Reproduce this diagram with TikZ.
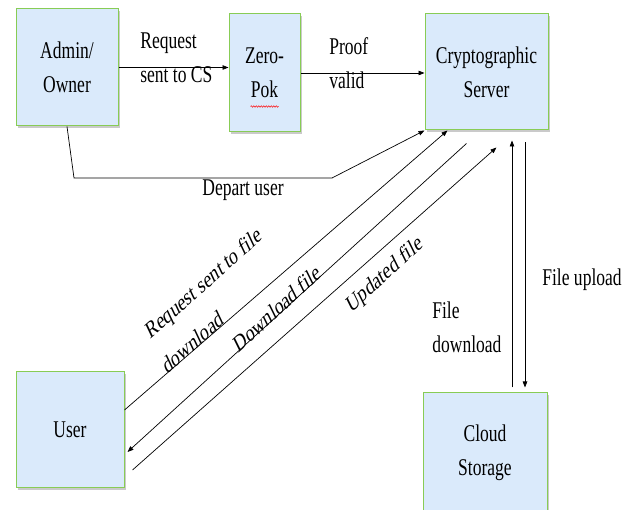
\documentclass[tikz,border=0pt]{standalone}
\usepackage{fontspec}
\setmainfont{Liberation Serif}[FakeStretch=0.73]
\newfontfamily\slantserif{Liberation Serif}
\usetikzlibrary{calc}
\usetikzlibrary{positioning}
\usetikzlibrary{arrows.meta,shadows,decorations.pathmorphing}
\definecolor{boxfill}{HTML}{DAEAFB}
\definecolor{boxline}{HTML}{88CC55}
\tikzset{
  block/.style={draw=boxline, line width=1pt, fill=boxfill, align=center, inner sep=0pt,
    drop shadow={shadow xshift=1.5pt, shadow yshift=-2pt, opacity=0.35, fill=black!60}},
  arr/.style={-{Triangle[length=6pt,width=4.5pt]}},
  lbl/.style={align=left, inner sep=0pt},
  tilted/.style={lbl, font=\fontsize{24}{42}\slantserif, xscale=0.73, rotate=#1}
}

\begin{document}
\begin{tikzpicture}[x=1pt, y=-1pt, font=\fontsize{24}{34}\selectfont, line width=0.7pt]
  \useasboundingbox (0,0) rectangle (635,510);

  \node [block, minimum width=102pt, minimum height=117pt] (admin) at (67,67.5) {Admin/\\Owner};
  \node [block, minimum width=71pt, minimum height=118pt] (zero) at (264.5,73) {Zero-\\Pok};
  \node [block, minimum width=123pt, minimum height=116pt] (crypto) at (486.5,72) {Cryptographic\\Server};
  \node [block, minimum width=108pt, minimum height=116pt] (user) at (70,430) {User};
  \node [block, minimum width=124pt, minimum height=120pt] (cloud) at (485,453) {Cloud\\Storage};

  % spell check mark under Pok
  \draw [red, line width=0.5pt, decorate, decoration={snake, amplitude=0.7pt, segment length=2.5pt}]
    ($(zero.south)+(-14,-26)$) -- ($(zero.south)+(14,-26)$);

  \draw [arr] (admin.east) -- (admin.east -| zero.west);
  \node [lbl, anchor=west] (req) at (140,58) {Request\\sent to CS};

  \draw [arr] (zero.east) -- (zero.east -| crypto.west);
  \node [lbl, anchor=west] (proof) at (329,63) {Proof\\valid};

  \draw [arr] (admin.south) -- (74,178) -- (332,178) -- (crypto.south west);
  \node [lbl] (depart) at (243,190) {Depart user};

  \draw [arr] ($(user.east)+(0,-20)$) -- ($(crypto.south west)+(23,0)$);
  \draw [arr] ($(crypto.south west)+(42,13)$) -- ($(user.east)+(3,22)$);
  \draw [arr] ($(user.east)+(8,40)$) -- ($(crypto.south west)+(72,17)$);
  \node [tilted=33] (reqfile) at (212,300) {Request sent to file\\download};
  \node [tilted=34] (dl) at (277,308) {Download file};
  \node [tilted=34] (upd) at (385,275) {Updated file};

  \draw [arr] ($(cloud.north)+(27,-5)$) -- ($(crypto.south)+(25.5,10)$);
  \draw [arr] ($(crypto.south)+(38.5,12)$) -- ($(cloud.north)+(40,-5)$);
  \node [lbl, anchor=west] (fdown) at (432,327) {File\\download};
  \node [lbl, anchor=west] (fup) at (542,280) {File upload};
\end{tikzpicture}
\end{document}
